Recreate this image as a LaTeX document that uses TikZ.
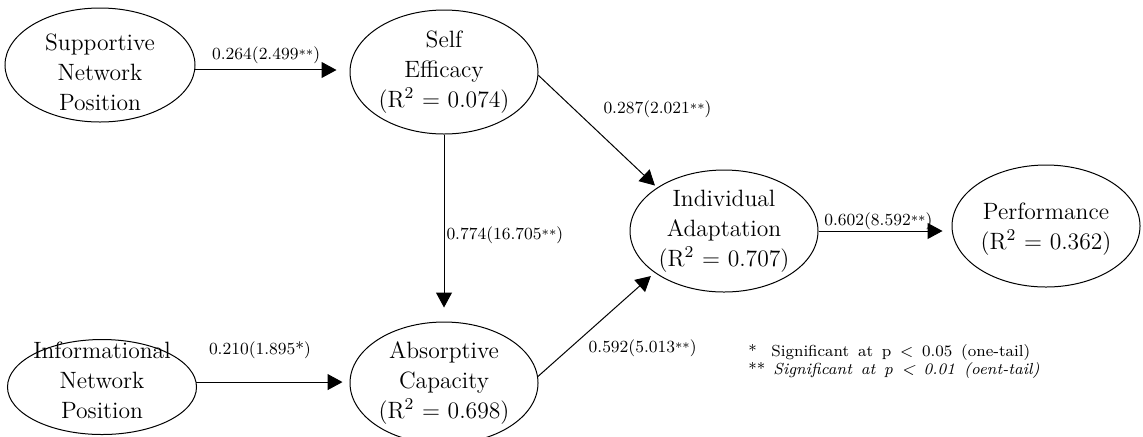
\documentclass[tikz,border=0pt]{standalone}
\usetikzlibrary{shapes.geometric,arrows.meta}
\newcommand{\sig}[1]{{\fontsize{6.5}{7}\selectfont #1}}
\begin{document}
\begin{tikzpicture}[x=0.5pt,y=-0.5pt,
  lat/.style={draw, ellipse, line width=0.5pt, inner sep=0pt, minimum width=94pt, minimum height=61pt},
  lattext/.style={align=center, font=\fontsize{11.8}{15}\selectfont, inner sep=0pt},
  path/.style={draw, line width=0.5pt, -{Triangle[length=7.5pt,width=8pt]}},
  lab/.style={font=\fontsize{8.5}{10}\selectfont, inner sep=1pt},
  legend/.style={align=left, anchor=west, inner sep=0pt, font=\fontsize{8}{6.6}\selectfont}
]
\useasboundingbox (0,0) rectangle (1143,436);

% latent variables
\node[lat, minimum width=95pt, minimum height=57pt,
  label={[lattext, yshift=-3.5pt]center:Supportive\\Network\\Position}] (sup) at (100,65) {};
\node[lat, minimum height=62pt,
  label={[lattext]center:Self\\Efficacy\\(R\textsuperscript{2} = 0.074)}] (se) at (444,72) {};
\node[lat, minimum width=94.5pt, minimum height=47.5pt,
  label={[lattext, yshift=3.5pt]center:Informational\\Network\\Position}] (info) at (102,387) {};
\node[lat,
  label={[lattext]center:Absorptive\\Capacity\\(R\textsuperscript{2} = 0.698)}] (ac) at (444,383) {};
\node[lat,
  label={[lattext]center:Individual\\Adaptation\\(R\textsuperscript{2} = 0.707)}] (ia) at (724,231) {};
\node[lat,
  label={[lattext, yshift=-1.5pt]center:Performance\\(R\textsuperscript{2} = 0.362)}] (perf) at (1046,226) {};

% paths
\draw[path, shorten >=6.5pt] (sup.-3) -- node[lab, above=2pt, pos=0.46] {0.264(2.499\sig{**})} (sup.-3 -| se.west);
\draw[path, shorten >=7pt] (se.south) -- node[lab, right, pos=0.537] {0.774(16.705\sig{**})} (ac.north);
\draw[path, shorten >=3.5pt] (info.3) -- node[lab, above=10.5pt, pos=0.415] {0.210(1.895*)} (info.3 -| ac.west);
\draw[path, shorten >=1.5pt] (se.-2) -- node[lab, anchor=west, pos=0.30, xshift=13.5pt] {0.287(2.021\sig{**})} (ia.147);
\draw[path, shorten >=2.5pt] (ac.4) -- node[lab, anchor=west, pos=0.276, xshift=8pt] {0.592(5.013\sig{**})} (ia.211);
\draw[path, shorten >=4.5pt] (ia.east) -- node[lab, above=-0.5pt, pos=0.45] {0.602(8.592\sig{**})} (ia.east -| perf.west);

% legend
\node[legend] (leg) at (748,361.5) {\spaceskip=4.4pt plus 1pt\makebox[11.5pt][l]{*}Significant at p < 0.05 (one-tail)\\
\spaceskip=4.4pt plus 1pt\makebox[12.5pt][l]{**}\textit{Significant at p < 0.01 (oent-tail)}};
\end{tikzpicture}
\end{document}
